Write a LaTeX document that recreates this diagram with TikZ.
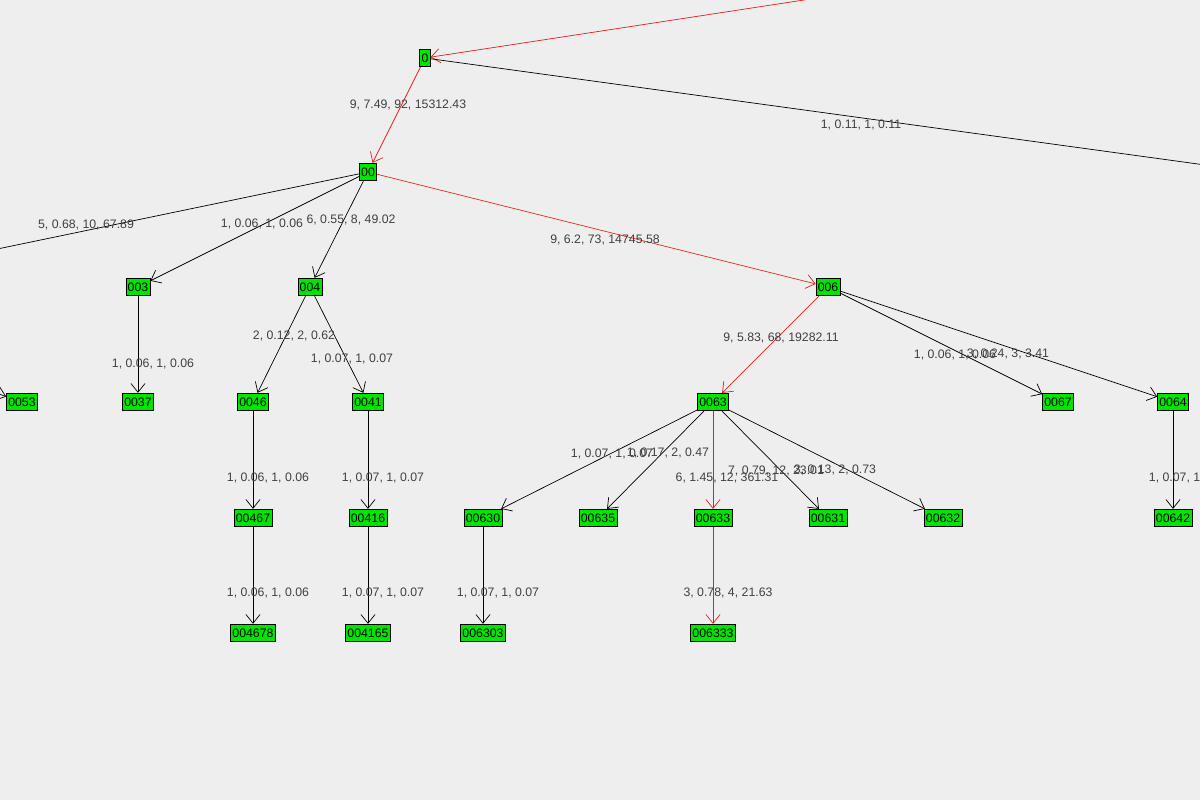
\documentclass[tikz,border=0pt]{standalone}
\usepackage{fontspec}
\setmainfont{Liberation Sans}
\usetikzlibrary{arrows.meta}
\definecolor{bgray}{RGB}{238,238,238}
\definecolor{vgreen}{RGB}{0,230,0}
\definecolor{ered}{RGB}{230,30,30}
\tikzset{
  vtx/.style={draw=black, fill=vgreen, inner sep=1pt, minimum height=10pt, font=\fontsize{7}{8}\selectfont},
  elab/.style={font=\fontsize{7}{8}\selectfont, text=black!75, inner sep=0pt},
  edg/.style={-{Straight Barb[length=5pt,width=8pt]}, black},
  hot/.style={-{Straight Barb[length=5pt,width=8pt]}, ered}
}
\newcommand\vx[3]{\node[vtx] (#1) at (#2,#3) {#1};}
\newcommand\lb[4]{\node[elab] (#1) at (#2,#3) {#4};}

\begin{document}
\begin{tikzpicture}[x=0.02cm, y=-0.02cm]
\fill[bgray] (0,0) rectangle (1200,800);
\useasboundingbox (0,0) rectangle (1200,800);
\clip (0,0) rectangle (1200,800);

\vx{0}{425}{58}
\vx{00}{368}{172}
\vx{003}{138}{287}
\vx{004}{310}{287}
\vx{006}{828}{287}
\vx{0053}{22}{402}
\vx{0037}{138}{402}
\vx{0046}{253}{402}
\vx{0041}{368}{402}
\vx{0063}{713}{402}
\vx{0067}{1058}{402}
\vx{0064}{1173}{402}
\vx{00467}{253}{518}
\vx{00416}{368}{518}
\vx{00630}{483}{518}
\vx{00635}{598}{518}
\vx{00633}{713}{518}
\vx{00631}{828}{518}
\vx{00632}{943}{518}
\vx{00642}{1173}{518}
\vx{004678}{253}{633}
\vx{004165}{368}{633}
\vx{006303}{483}{633}
\vx{006333}{713}{633}

% nodes beyond the border
\coordinate (up) at (1000,-30);
\coordinate (right) at (1300,178);
\coordinate (left) at (-200,290);
\coordinate (farleft) at (-100,360);

\draw[hot] (up) -- (0);
\draw[edg] (0) -- (right);
\draw[hot] (0) -- (00);
\draw[edg] (00) -- (left);
\draw[edg] (00) -- (003);
\draw[edg] (00) -- (004);
\draw[hot] (00) -- (006);
\draw[edg] (farleft) -- (0053);
\draw[edg] (003) -- (0037);
\draw[edg] (004) -- (0046);
\draw[edg] (004) -- (0041);
\draw[hot] (006) -- (0063);
\draw[edg] (006) -- (0067);
\draw[edg] (006) -- (0064);
\draw[edg] (0046) -- (00467);
\draw[edg] (0041) -- (00416);
\draw[edg] (0063) -- (00630);
\draw[edg] (0063) -- (00635);
\draw[hot] (0063) -- (00633);
\draw[edg] (0063) -- (00631);
\draw[edg] (0063) -- (00632);
\draw[edg] (0064) -- (00642);
\draw[edg] (00467) -- (004678);
\draw[edg] (00416) -- (004165);
\draw[edg] (00630) -- (006303);
\draw[hot] (00633) -- (006333);

\lb{l1}{861}{125}{1, 0.11, 1, 0.11}
\lb{l2}{408}{105}{9, 7.49, 92, 15312.43}
\lb{l3}{86}{225}{5, 0.68, 10, 67.89}
\lb{l4}{262}{224}{1, 0.06, 1, 0.06}
\lb{l5}{351}{220}{6, 0.55, 8, 49.02}
\lb{l6}{605}{240}{9, 6.2, 73, 14745.58}
\lb{l7}{153}{364}{1, 0.06, 1, 0.06}
\lb{l8}{294}{336}{2, 0.12, 2, 0.62}
\lb{l9}{352}{359}{1, 0.07, 1, 0.07}
\lb{l10}{781}{338}{9, 5.83, 68, 19282.11}
\lb{l11}{955}{355}{1, 0.06, 1, 0.06}
\lb{l12}{1008}{354}{3, 0.24, 3, 3.41}
\lb{l13}{612}{454}{1, 0.07, 1, 0.07}
\lb{l14}{668}{453}{1, 0.17, 2, 0.47}
\lb{l15}{727}{478}{6, 1.45, 12, 361.31}
\lb{l16}{776}{471}{7, 0.79, 12, 23.01}
\lb{l17}{835}{470}{3, 0.13, 2, 0.73}
\lb{l18}{268}{478}{1, 0.06, 1, 0.06}
\lb{l19}{383}{478}{1, 0.07, 1, 0.07}
\lb{l20}{1190}{478}{1, 0.07, 1, 0.07}
\lb{l21}{268}{593}{1, 0.06, 1, 0.06}
\lb{l22}{383}{593}{1, 0.07, 1, 0.07}
\lb{l23}{498}{593}{1, 0.07, 1, 0.07}
\lb{l24}{728}{593}{3, 0.78, 4, 21.63}
\end{tikzpicture}
\end{document}
